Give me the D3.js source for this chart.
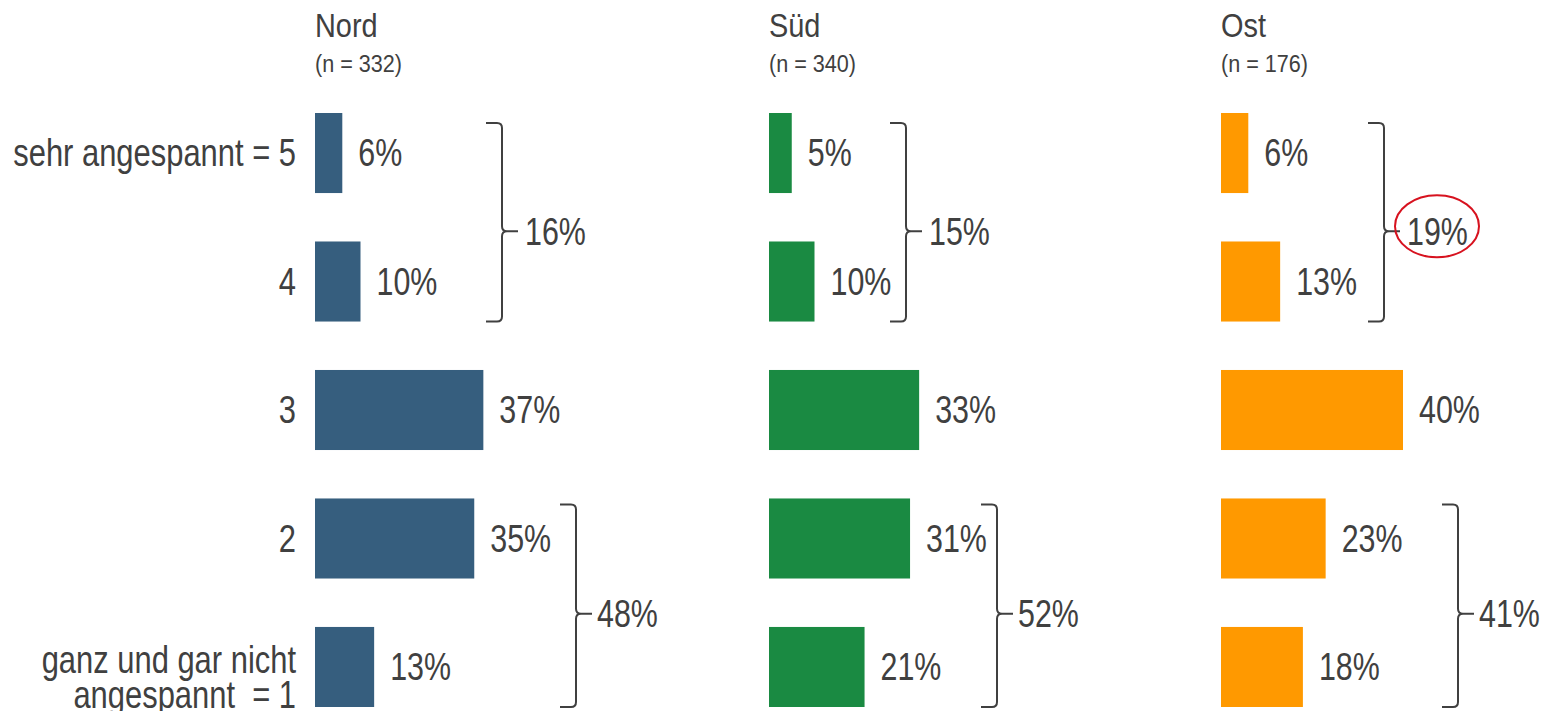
<!DOCTYPE html>
<html><head><meta charset="utf-8">
<script src="https://cdn.jsdelivr.net/npm/d3@7/dist/d3.min.js"></script>
<style>
html,body{margin:0;padding:0;background:#fff;}
svg{display:block;}
text{font-family:"Liberation Sans Narrow","Liberation Sans",Arial,sans-serif;fill:#404040;}
</style></head>
<body>
<svg id="chart" width="1555" height="711"></svg>
<script>
// ---- data ----
const categories = [["sehr angespannt = 5"], ["4"], ["3"], ["2"], ["ganz und gar nicht", "angespannt\u00a0 = 1"]];
const regions = ["Nord", "Süd", "Ost"];
const sampleSizes = ["(n = 332)", "(n = 340)", "(n = 176)"];
const nordValues = [6, 10, 37, 35, 13];
const suedValues = [5, 10, 33, 31, 21];
const ostValues = [6, 13, 40, 23, 18];
const topBoxValues = [16, 15, 19];     // rows 5+4
const bottomBoxValues = [48, 52, 41];  // rows 2+1
const highlightTopBox = [false, false, true];

// ---- layout ----
const colors = ["#365E7E", "#1A8A42", "#FF9900"];
const panelX = [315, 769, 1221];
const bracketTopX = [502, 906, 1384];
const bracketBottomX = [576, 997, 1458];
const seriesValues = [nordValues, suedValues, ostValues];
const FS = 38, SX = 0.8;

const svg = d3.select("#chart");
const rows = d3.range(categories.length);
const y = d3.scaleBand().domain(rows).range([113, 707]).paddingInner(0.377).paddingOuter(0);
const x = d3.scaleLinear().domain([0, 100]).range([0, 455]);
const fmt = v => v + "%";

// condensed text helper (narrow face emulated by horizontal scaling)
function ctext(parent, tx, ty, str, opts = {}) {
  const g = parent.append("g").attr("transform", `translate(${tx},${ty}) scale(${opts.sx || SX},1)`);
  const t = g.append("text").attr("x", 0).attr("y", 0).attr("font-size", opts.fs || FS)
    .attr("text-anchor", opts.anchor || "start").text(str);
  if (opts.dy) t.attr("dy", opts.dy);
  return t;
}

// category labels
const cat = svg.append("g");
categories.forEach((lines, i) => {
  const cy = y(i) + y.bandwidth() / 2;
  if (lines.length === 1) {
    ctext(cat, 296, cy, lines[0], { anchor: "end", dy: "0.35em", sx: 0.814 });
  } else {
    ctext(cat, 296, cy + 6, lines[0], { anchor: "end", sx: 0.814 });
    ctext(cat, 296, cy + 41, lines[1], { anchor: "end", sx: 0.814 });
  }
});

function bracket(g, bx, y0, y1, ym) {
  const p = d3.path();
  p.moveTo(bx - 16, y0); p.lineTo(bx - 5, y0); p.quadraticCurveTo(bx, y0, bx, y0 + 5);
  p.lineTo(bx, ym - 5); p.quadraticCurveTo(bx, ym, bx + 5, ym); p.lineTo(bx + 16, ym);
  p.moveTo(bx + 5, ym); p.quadraticCurveTo(bx, ym, bx, ym + 5);
  p.lineTo(bx, y1 - 5); p.quadraticCurveTo(bx, y1, bx - 5, y1); p.lineTo(bx - 16, y1);
  g.append("path").attr("d", p.toString()).attr("fill", "none").attr("stroke", "#404040").attr("stroke-width", 2);
}

regions.forEach((name, p) => {
  const g = svg.append("g").attr("transform", `translate(${panelX[p]},0)`);
  ctext(g, 0, 37, name, { fs: 34, sx: 0.85 });
  ctext(g, 0, 72, sampleSizes[p], { fs: 24, sx: 0.9 });
  const vals = seriesValues[p];
  g.selectAll("rect").data(vals).join("rect")
    .attr("x", 0).attr("y", (d, i) => y(i)).attr("width", d => x(d)).attr("height", y.bandwidth())
    .attr("fill", colors[p]);
  vals.forEach((d, i) => ctext(g, x(d) + 16, y(i) + y.bandwidth() / 2, fmt(d), { dy: "0.35em" }));

  const gb = svg.append("g");
  // top box
  const t0 = y(0) + 10, t1 = y(1) + y.bandwidth();
  const tm = (t0 + t1) / 2 + 9;
  bracket(gb, bracketTopX[p], t0, t1, tm);
  ctext(gb, bracketTopX[p] + 23, tm, fmt(topBoxValues[p]), { dy: "0.35em" });
  if (highlightTopBox[p]) {
    gb.append("ellipse").attr("cx", bracketTopX[p] + 53).attr("cy", tm - 5).attr("rx", 42).attr("ry", 31)
      .attr("fill", "none").attr("stroke", "#D7121F").attr("stroke-width", 2);
  }
  // bottom box
  const b0 = y(3) + 6, b1 = y(4) + y.bandwidth();
  const bm = (b0 + b1) / 2 + 8;
  bracket(gb, bracketBottomX[p], b0, b1, bm);
  ctext(gb, bracketBottomX[p] + 21, bm, fmt(bottomBoxValues[p]), { dy: "0.35em" });
});
</script>
</body></html>
